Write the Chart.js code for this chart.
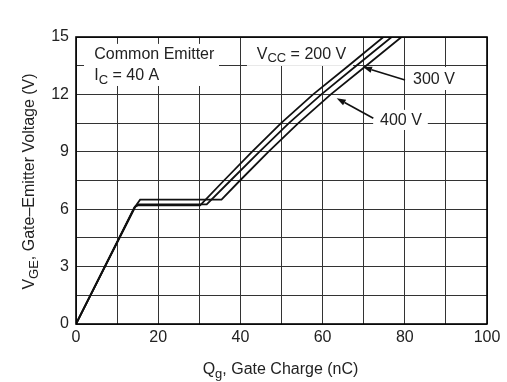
<!DOCTYPE html>
<html><head><meta charset="utf-8">
<script src="https://cdn.jsdelivr.net/npm/chart.js@4/dist/chart.umd.min.js"></script>
<style>html,body{margin:0;padding:0;background:#fff}#wrap{width:507px;height:382px;position:relative}</style>
</head><body><div id="wrap"><canvas id="c"></canvas></div>
<script>
// ---- data ----
const seriesNames = ['200 V', '300 V', '400 V'];
const charge200 = [0, 14.2, 15.0, 30.2, 36.0, 42.8, 49.9, 57.7, 66.3, 74.8];
const volt200   = [0, 6.1, 6.2, 6.2, 7.5, 9.0, 10.5, 12.0, 13.5, 15.0];
const charge300 = [0, 14.4, 15.2, 31.8, 37.6, 44.6, 51.8, 59.7, 68.2, 76.8];
const volt300   = [0, 6.15, 6.25, 6.25, 7.5, 9.0, 10.5, 12.0, 13.5, 15.0];
const charge400 = [0, 14.6, 15.6, 35.4, 39.9, 46.8, 54.1, 62.0, 70.6, 79.2];
const volt400   = [0, 6.2, 6.5, 6.5, 7.5, 9.0, 10.5, 12.0, 13.5, 15.0];
const xTickLabels = [0, 20, 40, 60, 80, 100];
const yTickLabels = [0, 3, 6, 9, 12, 15];

const FONT = '"Liberation Sans", Arial, Helvetica, sans-serif';
const TEXT = '#222';

function pts(xs, ys) { return xs.map((x, i) => ({ x: x, y: ys[i] })); }

// annotation layout (data coordinates)
const boxes = [
  { x0: 1.95, x1: 34.8, y0: 12.44, y1: 14.64 },
  { x0: 41.6, x1: 67.4, y0: 13.49, y1: 14.95 },
  { x0: 80.8, x1: 93.4, y0: 12.23, y1: 13.43 },
  { x0: 72.3, x1: 85.6, y0: 10.14, y1: 11.19 }
];
const labels = [
  { x: 4.45, y: 13.87, parts: [{ t: 'Common Emitter' }] },
  { x: 4.45, y: 12.74, parts: [{ t: 'I' }, { t: 'C', sub: true }, { t: ' = 40 A' }] },
  { x: 43.97, y: 13.87, parts: [{ t: 'V' }, { t: 'CC', sub: true }, { t: ' = 200 V' }] },
  { x: 82.0, y: 12.54, parts: [{ t: seriesNames[1] }] },
  { x: 73.97, y: 10.40, parts: [{ t: seriesNames[2] }] }
];
const arrows = [
  { fx: 80.05, fy: 12.75, tx: 69.83, ty: 13.43 },
  { fx: 72.34, fy: 10.75, tx: 63.43, ty: 11.80 }
];

function drawRich(ctx, parts, x, y, align) {
  let w = 0;
  parts.forEach(p => { ctx.font = (p.sub ? '13px ' : '16px ') + FONT; p.w = ctx.measureText(p.t).width; w += p.w; });
  let cx = align === 'center' ? x - w / 2 : x;
  parts.forEach(p => {
    ctx.font = (p.sub ? '13px ' : '16px ') + FONT;
    ctx.fillText(p.t, cx, y + (p.sub ? 3.5 : 0));
    cx += p.w;
  });
}

const annot = {
  id: 'annot',
  beforeDatasetsDraw(chart) {
    const ctx = chart.ctx, xs = chart.scales.x, ys = chart.scales.y;
    ctx.save();
    ctx.fillStyle = '#fff';
    boxes.forEach(b => {
      const l = xs.getPixelForValue(b.x0), r = xs.getPixelForValue(b.x1);
      const t = ys.getPixelForValue(b.y1), bt = ys.getPixelForValue(b.y0);
      ctx.fillRect(l, t, r - l, bt - t);
    });
    ctx.fillStyle = TEXT;
    ctx.textBaseline = 'alphabetic';
    ctx.textAlign = 'left';
    labels.forEach(lb => drawRich(ctx, lb.parts, xs.getPixelForValue(lb.x), ys.getPixelForValue(lb.y), 'left'));
    ctx.restore();
  },
  afterDatasetsDraw(chart) {
    const ctx = chart.ctx, xs = chart.scales.x, ys = chart.scales.y, a = chart.chartArea;
    ctx.save();
    ctx.strokeStyle = '#111';
    ctx.fillStyle = '#111';
    ctx.lineWidth = 1.6;
    arrows.forEach(ar => {
      const fx = xs.getPixelForValue(ar.fx), fy = ys.getPixelForValue(ar.fy);
      const tx = xs.getPixelForValue(ar.tx), ty = ys.getPixelForValue(ar.ty);
      const ang = Math.atan2(ty - fy, tx - fx);
      const hl = 9, hw = 3.2;
      const bx = tx - hl * Math.cos(ang), by = ty - hl * Math.sin(ang);
      ctx.beginPath(); ctx.moveTo(fx, fy); ctx.lineTo(bx, by); ctx.stroke();
      ctx.beginPath();
      ctx.moveTo(tx, ty);
      ctx.lineTo(bx + hw * Math.sin(ang), by - hw * Math.cos(ang));
      ctx.lineTo(bx - hw * Math.sin(ang), by + hw * Math.cos(ang));
      ctx.closePath(); ctx.fill();
    });
    // frame
    ctx.strokeStyle = '#000';
    ctx.lineWidth = 1.6;
    ctx.strokeRect(a.left, a.top, a.right - a.left, a.bottom - a.top);
    // axis titles
    ctx.fillStyle = TEXT;
    ctx.textBaseline = 'alphabetic';
    drawRich(ctx, [{ t: 'Q' }, { t: 'g', sub: true }, { t: ', Gate Charge (nC)' }], (a.left + a.right) / 2 - 1, 374, 'center');
    ctx.translate(34, (a.top + a.bottom) / 2 + 1);
    ctx.rotate(-Math.PI / 2);
    drawRich(ctx, [{ t: 'V' }, { t: 'GE', sub: true }, { t: ', Gate\u2013Emitter Voltage (V)' }], 0, 0, 'center');
    ctx.restore();
  }
};

const lineStyle = { borderColor: '#111', borderWidth: 1.8, pointRadius: 0, fill: false, tension: 0 };

new Chart(document.getElementById('c'), {
  type: 'line',
  data: {
    datasets: [
      Object.assign({ label: seriesNames[0], data: pts(charge200, volt200) }, lineStyle),
      Object.assign({ label: seriesNames[1], data: pts(charge300, volt300) }, lineStyle),
      Object.assign({ label: seriesNames[2], data: pts(charge400, volt400) }, lineStyle)
    ]
  },
  options: {
    responsive: true,
    maintainAspectRatio: false,
    animation: false,
    devicePixelRatio: 1,
    layout: { padding: { top: 37, right: 20, left: 0, bottom: 0 } },
    plugins: { legend: { display: false }, tooltip: { enabled: false } },
    scales: {
      x: {
        type: 'linear', min: 0, max: 100,
        afterBuildTicks(s) { const t = []; for (let v = 0; v <= 100; v += 10) t.push({ value: v }); s.ticks = t; },
        afterFit(s) { s.height = 58; },
        grid: { color: '#333', lineWidth: 1, drawTicks: false },
        border: { display: false },
        ticks: {
          padding: 4, color: TEXT, font: { family: FONT, size: 16 }, maxRotation: 0, autoSkip: false,
          callback: v => xTickLabels.includes(v) ? String(v) : ''
        }
      },
      y: {
        type: 'linear', min: 0, max: 15,
        afterBuildTicks(s) { const t = []; for (let k = 0; k <= 10; k++) t.push({ value: k * 1.5 }); s.ticks = t; },
        afterFit(s) { s.width = 76; },
        grid: { color: '#333', lineWidth: 1, drawTicks: false },
        border: { display: false },
        ticks: {
          padding: 7, color: TEXT, font: { family: FONT, size: 16 }, autoSkip: false,
          callback: v => yTickLabels.includes(v) ? String(v) : ''
        }
      }
    }
  },
  plugins: [annot]
});
</script>
</body></html>
